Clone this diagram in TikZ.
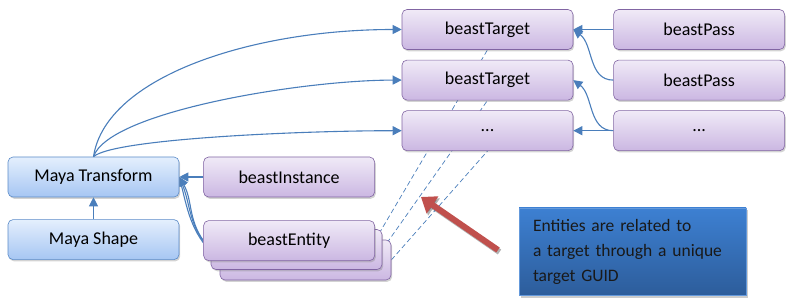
\documentclass[tikz,border=0pt]{standalone}
\usepackage{fontspec}
\setmainfont{Carlito}
\usepackage{xcolor}
\usepackage{tikz}
\usetikzlibrary{positioning,arrows.meta,shadows,backgrounds}

\definecolor{mayatop}{HTML}{E4EFFD}
\definecolor{mayabot}{HTML}{A6C6F3}
\definecolor{mayaline}{HTML}{5B8BC8}
\definecolor{beasttop}{HTML}{F0EAF7}
\definecolor{beastbot}{HTML}{CBB7E2}
\definecolor{beastline}{HTML}{8165A3}
\definecolor{linkblue}{HTML}{4A7EBB}
\definecolor{hintred}{HTML}{C0504D}
\definecolor{notetop}{HTML}{3D80D2}
\definecolor{notebot}{HTML}{2D5D9B}

\begin{document}
\begin{tikzpicture}[
    x=1pt, y=-1pt,
    node distance=10pt,
    box/.style={rectangle, rounded corners=5pt, minimum width=171pt, minimum height=40pt, inner sep=0pt, align=center, font=\fontsize{18}{22}\selectfont, line width=0.6pt, drop shadow={shadow xshift=1.2pt, shadow yshift=-1.8pt, opacity=0.35}},
    mayabox/.style={box, draw=mayaline, top color=mayatop, bottom color=mayabot},
    beastbox/.style={box, draw=beastline, top color=beasttop, bottom color=beastbot},
    notebox/.style={rectangle, top color=notetop, bottom color=notebot, draw=notetop!80!white, minimum width=227pt, minimum height=87pt, text width=199pt, inner xsep=14pt, align=left, font=\fontsize{17.5}{25}\selectfont, text=black!90, drop shadow={shadow xshift=1.5pt, shadow yshift=-2.5pt, opacity=0.4}},
    arrow/.style={-{Triangle[length=9pt, width=9pt]}, draw=linkblue, line width=1.1pt},
    link/.style={draw=linkblue, line width=0.7pt, dash pattern=on 5pt off 3pt},
    hint/.style={-{Triangle[length=14pt, width=20pt]}, draw=hintred, line width=6pt}
]
\useasboundingbox (0,0) rectangle (795,307);

% Nodes
\node[mayabox] (transform) at (93.5,177) {Maya Transform};
\node[mayabox, below=22pt of transform] (shape) {Maya Shape};
\node[beastbox, right=24pt of transform] (instance) {beastInstance};

\node[beastbox] (entityC) at (305.5,260) {};
\node[beastbox] (entityB) at (296.5,249.5) {};
\node[beastbox, below=23pt of instance] (entityA) {beastEntity};

\node[beastbox] (targetA) at (487.5,29.5) {beastTarget};
\node[beastbox, below=of targetA] (targetB) {beastTarget};
\node[beastbox, below=of targetB] (targetC) {...};

\node[beastbox, right=40pt of targetA] (passA) {beastPass};
\node[beastbox, right=40pt of targetB] (passB) {beastPass};
\node[beastbox, right=40pt of targetC] (passC) {...};

\node[notebox] (note) at (632.5,251.5) {Entities are related to\\a target through\hspace{6pt}a unique\\target GUID};

\coordinate (tail) at (498,250);
\coordinate (tip) at (421,197);

% Arrows
\draw[arrow] (shape) -- (transform);
\draw[arrow] (instance) -- (transform);

\draw[arrow] (transform.north) .. controls +(12,-80) and +(-150,0) .. (targetA.west);
\draw[arrow] (transform.north) .. controls +(15,-45) and +(-100,0) .. (targetB.west);
\draw[arrow] (transform.north) .. controls +(20,-18) and +(-100,0) .. (targetC.west);

\draw[arrow] (passA.west) -- (targetA.east);
\draw[arrow] (passB.west) .. controls +(-25,0) and +(20,15) .. (targetA.east);
\draw[arrow] (passC.west) -- (targetC.east);
\draw[arrow] (passC.west) .. controls +(-25,0) and +(20,15) .. (targetB.east);

% Links behind the boxes
\begin{scope}[on background layer]
\draw[arrow] (entityA.west) to[out=125, in=-60] (transform.east);
\draw[arrow] (entityB.west) to[out=135, in=-68] (transform.east);
\draw[arrow] (entityC.west) to[out=140, in=-76] (transform.east);
\draw[link] (entityA.east) -- (targetA.south);
\draw[link] (entityB.east) -- (targetB.south);
\draw[link] (entityC.east) -- (targetC.south);
\end{scope}

% Hint arrow
\draw[hint, draw=black, opacity=0.3, transform canvas={shift={(1.5pt,-2pt)}}] (tail) -- (tip);
\draw[hint] (tail) -- (tip);

\end{tikzpicture}
\end{document}
